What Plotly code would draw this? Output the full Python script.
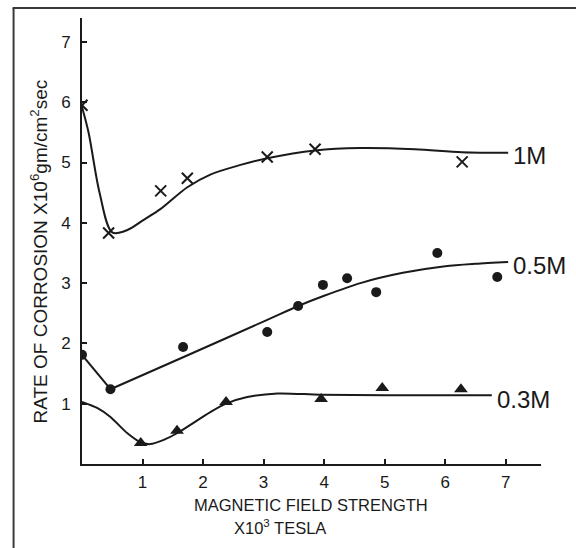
import plotly.graph_objects as go

# ---- measured points -------------------------------------------------------
field_1m = [0.0, 0.44, 1.30, 1.74, 3.06, 3.85, 6.28]
rate_1m = [5.95, 3.83, 4.53, 4.74, 5.09, 5.22, 5.01]

field_05m = [0.0, 0.47, 1.67, 3.06, 3.57, 3.98, 4.38, 4.86, 5.87, 6.86]
rate_05m = [1.81, 1.24, 1.94, 2.19, 2.62, 2.97, 3.08, 2.85, 3.50, 3.10]

field_03m = [0.97, 1.57, 2.38, 3.95, 4.96, 6.26]
rate_03m = [0.35, 0.55, 1.03, 1.08, 1.26, 1.24]

# ---- hand-drawn trend curves ----------------------------------------------
curve_1m_x = [0.0, 0.11, 0.29, 0.50, 0.75, 1.02, 1.30, 1.74, 2.12, 2.62, 3.06, 3.85, 4.60, 5.50, 6.28, 7.04]
curve_1m_y = [5.92, 5.49, 4.50, 3.84, 3.88, 4.05, 4.23, 4.59, 4.80, 4.96, 5.07, 5.20, 5.24, 5.22, 5.17, 5.16]

curve_05m_start_x = [0.0, 0.47]
curve_05m_start_y = [1.81, 1.24]
curve_05m_x = [0.47, 1.67, 3.06, 3.57, 4.00, 4.60, 5.30, 6.00, 6.50, 7.04]
curve_05m_y = [1.24, 1.77, 2.39, 2.62, 2.79, 3.00, 3.17, 3.28, 3.32, 3.35]

curve_03m_x = [0.0, 0.25, 0.47, 0.75, 0.97, 1.13, 1.35, 1.57, 2.12, 2.38, 2.73, 3.23, 3.93, 5.0, 6.0, 6.77]
curve_03m_y = [1.03, 0.93, 0.78, 0.51, 0.36, 0.33, 0.40, 0.51, 0.86, 1.00, 1.11, 1.17, 1.15, 1.14, 1.14, 1.14]

series_labels = ["1M", "0.5M", "0.3M"]
label_x = [7.08, 7.08, 6.82]
label_y = [5.12, 3.30, 1.07]

tick_vals = [1, 2, 3, 4, 5, 6, 7]

# ---- page geometry ---------------------------------------------------------
W, H = 576, 548
L, R, T, B = 81.5, 35, 18, 84
PW, PH = W - L - R, H - T - B


def px(x):
    return (x - L) / PW


def py(y):
    return (H - B - y) / PH


INK = "#1a1a1a"
FONT = "Liberation Sans"

fig = go.Figure()

line_style = dict(color=INK, width=2)

fig.add_trace(go.Scatter(x=curve_1m_x, y=curve_1m_y, mode="lines",
                         line=dict(shape="spline", smoothing=0.9, **line_style)))
fig.add_trace(go.Scatter(x=curve_05m_start_x, y=curve_05m_start_y, mode="lines",
                         line=line_style))
fig.add_trace(go.Scatter(x=curve_05m_x, y=curve_05m_y, mode="lines",
                         line=dict(shape="spline", smoothing=0.8, **line_style)))
fig.add_trace(go.Scatter(x=curve_03m_x, y=curve_03m_y, mode="lines",
                         line=dict(shape="spline", smoothing=0.8, **line_style)))

fig.add_trace(go.Scatter(x=field_1m, y=rate_1m, mode="markers",
                         marker=dict(symbol="x-thin", size=11, color=INK,
                                     line=dict(color=INK, width=2))))
fig.add_trace(go.Scatter(x=field_05m, y=rate_05m, mode="markers",
                         marker=dict(symbol="circle", size=10, color=INK)))
fig.add_trace(go.Scatter(x=field_03m, y=rate_03m, mode="markers",
                         marker=dict(symbol="triangle-up", size=12, color=INK)))

for text, lx, ly in zip(series_labels, label_x, label_y):
    fig.add_annotation(x=lx, y=ly, text=text, showarrow=False, xanchor="left",
                       yanchor="middle", font=dict(family=FONT, size=24, color=INK))

# axis titles
fig.add_annotation(xref="paper", yref="paper", x=px(311), y=py(505),
                   xanchor="center", yanchor="middle",
                   text="MAGNETIC FIELD STRENGTH", showarrow=False,
                   font=dict(family=FONT, size=16.5, color=INK))
fig.add_annotation(xref="paper", yref="paper", x=px(280), y=py(527),
                   xanchor="center", yanchor="middle",
                   text="X10<sup>3</sup> TESLA", showarrow=False,
                   font=dict(family=FONT, size=16.5, color=INK))
fig.add_annotation(xref="paper", yref="paper", x=px(38), y=py(252),
                   xanchor="center", yanchor="middle",
                   text="RATE OF CORROSION X10<sup>6</sup>gm/cm<sup>2</sup>sec",
                   textangle=-90, showarrow=False,
                   font=dict(family=FONT, size=19, color=INK))

# page frame
frame = dict(color="#3a3a3a", width=2)
fig.add_shape(type="line", xref="paper", yref="paper",
              x0=px(13), x1=px(13), y0=py(8), y1=py(560), line=frame)
fig.add_shape(type="line", xref="paper", yref="paper",
              x0=px(12), x1=px(580), y0=py(8), y1=py(8), line=frame)

axis_common = dict(showgrid=False, zeroline=False, showline=True, linecolor=INK,
                   linewidth=2, ticks="inside", ticklen=5, tickwidth=1.5,
                   tickcolor=INK, tickvals=tick_vals,
                   tickfont=dict(family=FONT, size=17, color=INK))

fig.update_xaxes(range=[0, PW / 60.6], ticklabelstandoff=2, **axis_common)
fig.update_yaxes(range=[0, PH / 60.3], ticklabelstandoff=6, **axis_common)

fig.update_layout(width=W, height=H, showlegend=False,
                  margin=dict(l=L, r=R, t=T, b=B),
                  paper_bgcolor="white", plot_bgcolor="white")

fig.write_html("out.html")
